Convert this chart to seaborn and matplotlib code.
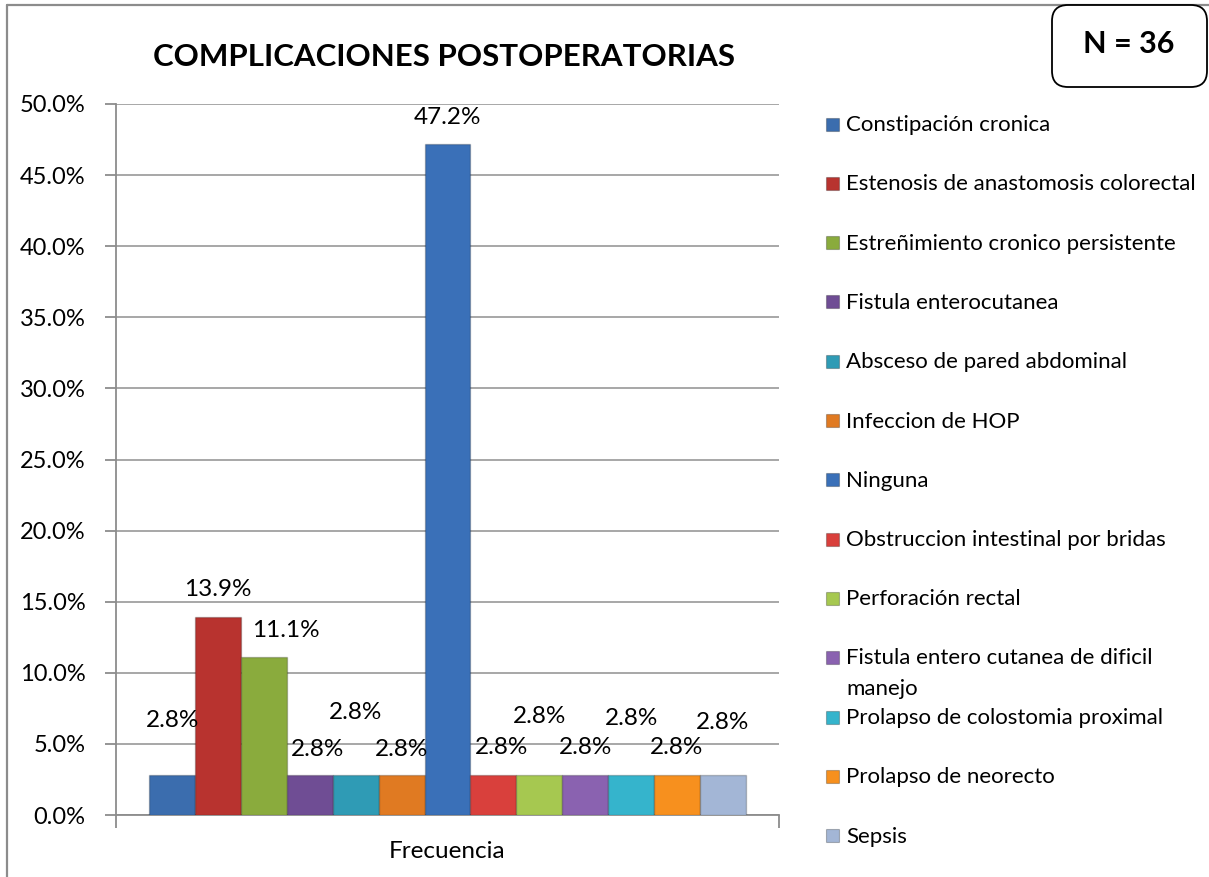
import pandas as pd
import matplotlib
matplotlib.use("Agg")
import matplotlib.pyplot as plt
from matplotlib.patches import FancyBboxPatch, Rectangle
from matplotlib.lines import Line2D
from matplotlib.ticker import FuncFormatter, FixedLocator
import seaborn as sns

# ============================
# DATA
# ============================
categorias = [
    "Constipación cronica",
    "Estenosis de anastomosis colorectal",
    "Estreñimiento cronico persistente",
    "Fistula enterocutanea",
    "Absceso de pared abdominal",
    "Infeccion de HOP",
    "Ninguna",
    "Obstruccion intestinal por bridas",
    "Perforación rectal",
    "Fistula entero cutanea de dificil\nmanejo",
    "Prolapso de colostomia proximal",
    "Prolapso de neorecto",
    "Sepsis",
]
porcentajes = [2.8, 13.9, 11.1, 2.8, 2.8, 2.8, 47.2, 2.8, 2.8, 2.8, 2.8, 2.8, 2.8]
grupo = "Frecuencia"
titulo = "COMPLICACIONES POSTOPERATORIAS"
n_texto = "N = 36"

# ============================
# STYLE
# ============================
colores = [
    "#3B6DAE", "#B8332F", "#8AAB3D", "#6F4D94", "#2F9BB5", "#E07A22",
    "#3A70B8", "#D9403C", "#A6C850", "#8A62B0", "#35B4CC", "#F7901E",
    "#A3B6D6",
]
# label offsets (dx px, height above bar top px), Excel-like staggering
etiqueta_offsets = [
    (0, 55), (0, 28), (22, 27), (8, 26), (0, 63), (0, 26), (0, 26),
    (8, 28), (0, 59), (0, 28), (0, 57), (0, 28), (0, 53),
]

sns.set_theme(style="white")
plt.rcParams["font.family"] = ["Lato", "DejaVu Sans"]

W, H = 1209, 877
fig = plt.figure(figsize=(W / 100, H / 100), dpi=100)
ax = fig.add_axes([116 / W, 62 / H, 663 / W, 711 / H])

df = pd.DataFrame({"grupo": grupo, "complicacion": categorias, "pct": porcentajes})

sns.barplot(
    data=df, x="grupo", y="pct", hue="complicacion", hue_order=categorias,
    palette=colores, saturation=1, width=0.9, ax=ax, legend=False,
    edgecolor="#00000038", linewidth=1.0, zorder=3,
)

ax.set_ylim(0, 50)
ax.set_xlim(-0.5, 0.5)
ax.set_yticks(range(0, 51, 5))
ax.yaxis.set_major_formatter(FuncFormatter(lambda v, p: f"{v:.1f}%"))
ax.grid(axis="y", color="#A0A0A0", linewidth=1.3, zorder=0)
ax.grid(axis="x", visible=False)
ax.set_xlabel("")
ax.set_ylabel("")

for s in ["top", "right"]:
    ax.spines[s].set_visible(False)
for s in ["left", "bottom"]:
    ax.spines[s].set_color("#8C8C8C")
    ax.spines[s].set_linewidth(1.3)

ax.tick_params(axis="y", which="major", left=True, length=8, width=1.3,
               color="#8C8C8C", labelsize=17, labelcolor="black", pad=14)
ax.tick_params(axis="x", which="major", length=0, labelsize=17.5,
               labelcolor="black", pad=19)
ax.xaxis.set_minor_locator(FixedLocator([-0.5, 0.5]))
ax.tick_params(axis="x", which="minor", bottom=True, length=9, width=1.3,
               color="#8C8C8C")

# data labels
for cont, (dx, dy) in zip(ax.containers, etiqueta_offsets):
    bar = cont[0]
    x = bar.get_x() + bar.get_width() / 2
    y = bar.get_height()
    ax.annotate(f"{y:.1f}%", (x, y), xytext=(dx, dy), textcoords="offset pixels",
                ha="center", va="center", fontsize=17.5, color="black", zorder=5)

# title and N box
fig.text(444 / W, 1 - 57 / H, titulo, ha="center", va="center",
         fontsize=22.5, fontweight="bold", color="black")

fig.add_artist(Line2D([7 / W, 7 / W], [0, 1 - 5 / H], color="#8C8C8C", lw=1.6))
fig.add_artist(Line2D([7 / W, 1], [1 - 5 / H, 1 - 5 / H], color="#8C8C8C", lw=1.6))

caja = FancyBboxPatch((10.52, (H - 87) / 100), 1.55, 0.82,
                      boxstyle="round,pad=0,rounding_size=0.16",
                      transform=fig.dpi_scale_trans, facecolor="white",
                      edgecolor="black", linewidth=1.3, zorder=10)
fig.add_artist(caja)
fig.text(1129 / W, 1 - 44 / H, n_texto, ha="center", va="center",
         fontsize=22, fontweight="bold", color="black", zorder=11)

# legend (Excel style: fixed slots, wrapped entry overflows)
for i, (nombre, color) in enumerate(zip(categorias, colores)):
    yc = 124 + 59.3 * i
    extra = 30 * nombre.count("\n")
    fig.add_artist(Rectangle((826 / W, 1 - (yc + 6.5) / H), 13 / W, 13 / H,
                             transform=fig.transFigure, facecolor=color,
                             edgecolor="#00000040", linewidth=0.8))
    fig.text(846 / W, 1 - (yc + 7 + extra) / H, nombre, ha="left", va="baseline",
             fontsize=16, color="black", linespacing=1.7)

fig.savefig("out.png", dpi=100)
